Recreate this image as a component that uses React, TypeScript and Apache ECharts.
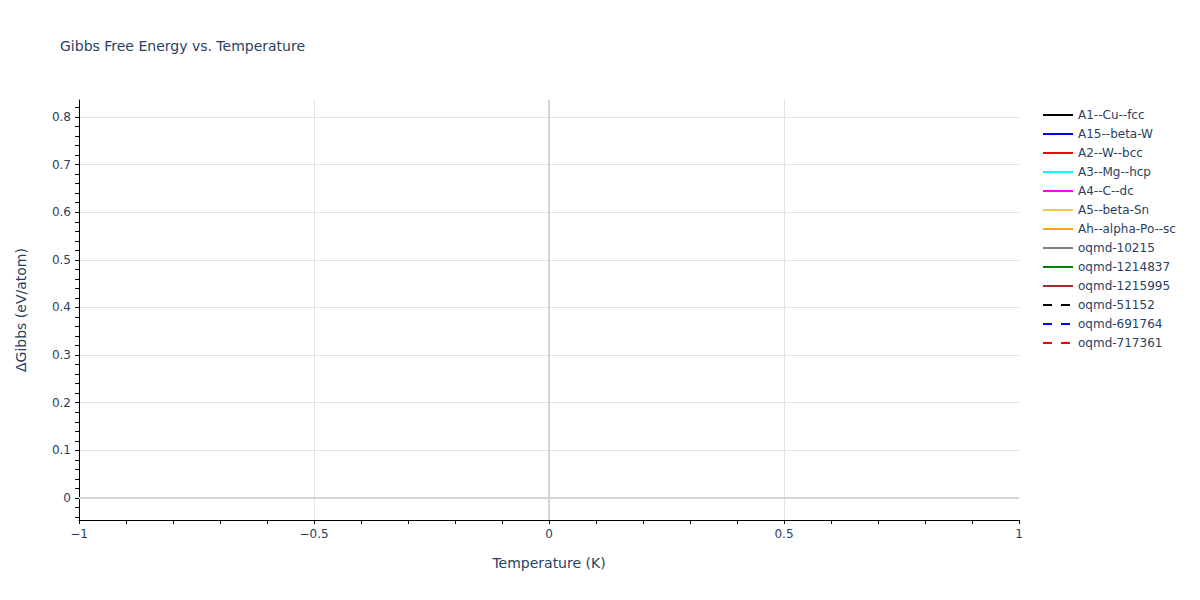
import { useEffect, useRef } from 'react'
import * as echarts from 'echarts'

// Series (no points were plotted in the source figure)
const seriesNames = [
  'A1--Cu--fcc',
  'A15--beta-W',
  'A2--W--bcc',
  'A3--Mg--hcp',
  'A4--C--dc',
  'A5--beta-Sn',
  'Ah--alpha-Po--sc',
  'oqmd-10215',
  'oqmd-1214837',
  'oqmd-1215995',
  'oqmd-51152',
  'oqmd-691764',
  'oqmd-717361',
]
const seriesColors = [
  '#000000', '#0000ff', '#ff0000', '#00ffff', '#ff00ff', '#eecb3f', '#ffa500',
  '#808080', '#008000', '#a52a2a', '#000000', '#0000ff', '#ff0000',
]
const seriesDashed = [false, false, false, false, false, false, false, false, false, false, true, true, true]
const seriesTemps: number[][] = seriesNames.map(() => [])
const seriesGibbs: number[][] = seriesNames.map(() => [])

// Axes
const xRange = [-1, 1]
const yRange = [-0.0462, 0.8357]
const xLabelTicks = [-1, -0.5, 0, 0.5, 1]
const xGridTicks = [-0.5, 0, 0.5]
const xMinorTicks = [-1, -0.9, -0.8, -0.7, -0.6, -0.5, -0.4, -0.3, -0.2, -0.1, 0, 0.1, 0.2, 0.3, 0.4, 0.5, 0.6, 0.7, 0.8, 0.9, 1]
const yLabelTicks = [0, 0.1, 0.2, 0.3, 0.4, 0.5, 0.6, 0.7, 0.8]
const yMinorTicks = [
  -0.04, -0.02, 0, 0.02, 0.04, 0.06, 0.08, 0.1, 0.12, 0.14, 0.16, 0.18, 0.2, 0.22, 0.24, 0.26, 0.28, 0.3,
  0.32, 0.34, 0.36, 0.38, 0.4, 0.42, 0.44, 0.46, 0.48, 0.5, 0.52, 0.54, 0.56, 0.58, 0.6, 0.62, 0.64, 0.66,
  0.68, 0.7, 0.72, 0.74, 0.76, 0.78, 0.8, 0.82,
]

const FONT = '"DejaVu Sans", Verdana, sans-serif'
const TEXT = '#2a3f5f'
const fmt = (v: number) => String(v).replace('-', '\u2212')

export default function App() {
  const chartRef = useRef<HTMLDivElement>(null)

  useEffect(() => {
    document.body.style.margin = '0'
    if (!chartRef.current) return
    const chart = echarts.init(chartRef.current, undefined, { renderer: 'svg' })

    const option = {
      animation: false,
      backgroundColor: '#ffffff',
      textStyle: { fontFamily: FONT },
      title: {
        text: 'Gibbs Free Energy vs. Temperature',
        left: 55,
        top: 34,
        textStyle: { fontFamily: FONT, fontSize: 14, fontWeight: 'normal', color: TEXT },
      },
      legend: {
        orient: 'vertical',
        left: 1037,
        top: 104,
        itemWidth: 30,
        itemHeight: 14,
        itemGap: 7,
        itemStyle: { opacity: 0 },
        lineStyle: { width: 2 },
        textStyle: { fontFamily: FONT, fontSize: 12, color: TEXT },
        data: seriesNames,
      },
      grid: { left: 79, right: 181, top: 100, bottom: 80, containLabel: false },
      xAxis: [
        {
          type: 'value',
          min: xRange[0],
          max: xRange[1],
          name: 'Temperature (K)',
          nameLocation: 'middle',
          nameGap: 36,
          nameTextStyle: { fontFamily: FONT, fontSize: 14, color: TEXT },
          axisLine: { show: true, onZero: false, lineStyle: { color: '#000', width: 1 } },
          axisTick: { show: true, customValues: xMinorTicks, length: 4, lineStyle: { color: '#000' } },
          axisLabel: {
            customValues: xLabelTicks,
            formatter: fmt,
            margin: 8,
            fontFamily: FONT,
            fontSize: 12,
            color: TEXT,
          },
          splitLine: { show: false },
        },
        {
          type: 'value',
          min: xRange[0],
          max: xRange[1],
          position: 'bottom',
          axisLine: { show: false },
          axisTick: { show: false, customValues: xGridTicks },
          axisLabel: { show: false },
          splitLine: { show: true, lineStyle: { color: '#e2e2e2', width: 1 } },
        },
      ],
      yAxis: [
        {
          type: 'value',
          min: yRange[0],
          max: yRange[1],
          name: 'ΔGibbs (eV/atom)',
          nameLocation: 'middle',
          nameGap: 51,
          nameTextStyle: { fontFamily: FONT, fontSize: 14, color: TEXT },
          axisLine: { show: true, onZero: false, lineStyle: { color: '#000', width: 1 } },
          axisTick: { show: true, customValues: yMinorTicks, length: 4, lineStyle: { color: '#000' } },
          axisLabel: {
            customValues: yLabelTicks,
            formatter: fmt,
            margin: 8,
            fontFamily: FONT,
            fontSize: 12,
            color: TEXT,
          },
          splitLine: { show: false },
        },
        {
          type: 'value',
          min: yRange[0],
          max: yRange[1],
          position: 'left',
          axisLine: { show: false },
          axisTick: { show: false, customValues: yLabelTicks },
          axisLabel: { show: false },
          splitLine: { show: true, lineStyle: { color: '#e2e2e2', width: 1 } },
        },
      ],
      series: [
        ...seriesNames.map((name, i) => ({
          name,
          type: 'line',
          showSymbol: false,
          symbol: 'none',
          color: seriesColors[i],
          lineStyle: { color: seriesColors[i], width: 2, type: seriesDashed[i] ? [9, 9] : 'solid' },
          data: seriesTemps[i].map((t, j) => [t, seriesGibbs[i][j]]),
        })),
        {
          name: 'zerolines',
          type: 'line',
          data: [],
          silent: true,
          markLine: {
            symbol: 'none',
            silent: true,
            label: { show: false },
            lineStyle: { color: '#d4d4d4', width: 2, type: 'solid' },
            data: [{ xAxis: 0 }, { yAxis: 0 }],
          },
        },
      ],
    }

    chart.setOption(option as echarts.EChartsOption)
    return () => chart.dispose()
  }, [])

  return <div ref={chartRef} style={{ width: '1200px', height: '600px' }} />
}
